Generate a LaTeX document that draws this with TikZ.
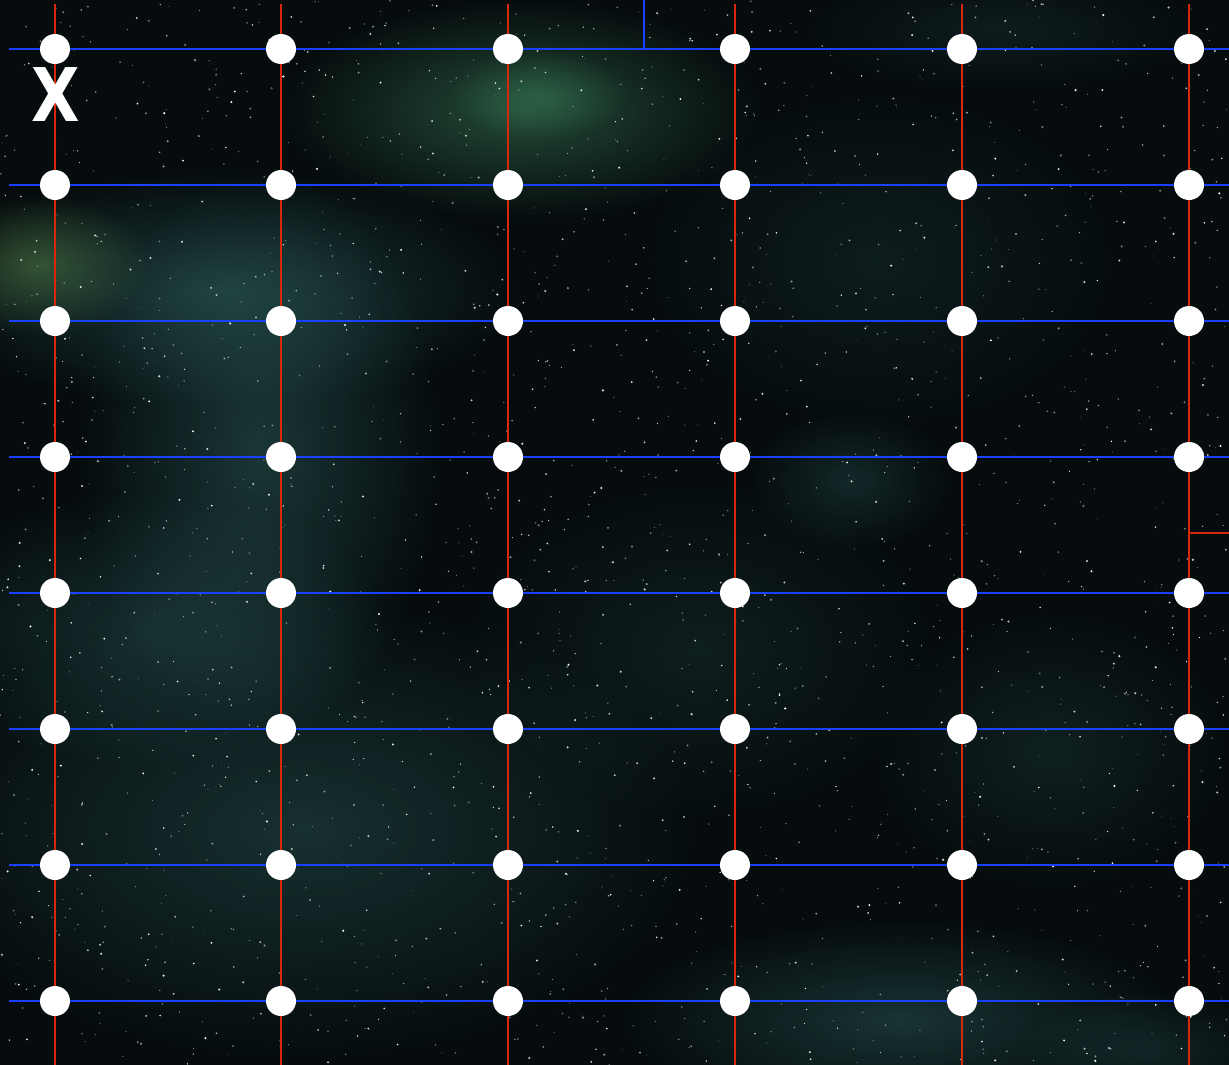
\documentclass[tikz,border=0pt]{standalone}
\usepackage{fontspec}
\newfontfamily\xfont{DejaVu Sans}
\usetikzlibrary{fadings}
\tikzfading[name=fuzzy, inner color=transparent!0, outer color=transparent!100]
\definecolor{bg}{RGB}{6,12,14}
\definecolor{neb}{RGB}{60,125,120}
\definecolor{nebg}{RGB}{70,150,105}
\definecolor{nebY}{RGB}{95,140,70}
\definecolor{gridred}{RGB}{215,40,10}
\definecolor{gridblue}{RGB}{25,65,255}
\begin{document}
\begin{tikzpicture}[x=1pt,y=-1pt,
  dot/.style={circle,fill=white,minimum size=30pt,inner sep=0pt},
  vline/.style={gridred,line width=1.6pt},
  hline/.style={gridblue,line width=2pt},
  cloud/.style={path fading=fuzzy}]
\useasboundingbox (0,0) rectangle (1229,1065);
\fill[bg] (0,0) rectangle (1229,1065);
% nebula
\fill[nebg,opacity=.45,cloud] (520,110) ellipse (240 and 110);
\fill[nebg,opacity=.35,cloud] (540,95) ellipse (90 and 45);
\fill[nebY,opacity=.5,cloud] (40,265) ellipse (110 and 70);
\fill[neb,opacity=.4,cloud] (220,290) ellipse (300 and 120);
\fill[neb,opacity=.38,cloud] (260,450) ellipse (180 and 280);
\fill[neb,opacity=.3,cloud] (150,630) ellipse (240 and 140);
\fill[neb,opacity=.32,cloud] (300,830) ellipse (400 and 230);
\fill[neb,opacity=.35,cloud] (900,1020) ellipse (280 and 100);
\fill[neb,opacity=.22,cloud] (1150,1050) ellipse (130 and 60);
\fill[neb,opacity=.25,cloud] (850,480) ellipse (100 and 70);
\fill[neb,opacity=.16,cloud] (700,650) ellipse (240 and 170);
\fill[neb,opacity=.15,cloud] (880,260) ellipse (240 and 170);
\fill[neb,opacity=.15,cloud] (1000,30) ellipse (200 and 60);
\fill[neb,opacity=.18,cloud] (1050,750) ellipse (180 and 140);
% stars
\pgfmathsetseed{4242}
\foreach \i in {1,...,2200}{
  \pgfmathsetmacro\sx{rnd*1229}
  \pgfmathsetmacro\sy{rnd*1065}
  \pgfmathsetmacro\sr{0.4+rnd*0.8}
  \pgfmathsetmacro\so{0.3+rnd*0.7}
  \fill[white,opacity=\so] (\sx,\sy) circle (\sr);
}
% grid coordinates
\foreach \c [count=\ci] in {55,281,508,735,962,1189}{
  \coordinate (t\ci) at (\c,4);
  \coordinate (b\ci) at (\c,1065);
  \foreach \r [count=\ri] in {49,185,321,457,593,729,865,1001}{
    \coordinate (p\ci-\ri) at (\c,\r);
  }
}
\foreach \r [count=\ri] in {49,185,321,457,593,729,865,1001}{
  \coordinate (l\ri) at (9,\r);
  \coordinate (r\ri) at (1229,\r);
}
\coordinate (bt) at (644,0);
\coordinate (bj) at (644,49);
\coordinate (rj) at (1189,533);
\coordinate (re) at (1229,533);
% lines
\foreach \ci in {1,...,6}{ \draw[vline] (t\ci) -- (b\ci); }
\foreach \ri in {1,...,8}{ \draw[hline] (l\ri) -- (r\ri); }
\draw[hline] (bt) -- (bj);
\draw[vline] (rj) -- (re);
% dots
\foreach \ci in {1,...,6}{
  \foreach \ri in {1,...,8}{
    \node[dot] (d\ci-\ri) at (p\ci-\ri) {};
  }
}
% label
\node[text=white,inner sep=0pt,xscale=0.85] (xlabel) at (56,95) {\xfont\bfseries\fontsize{74}{74}\selectfont X};
\end{tikzpicture}
\end{document}
